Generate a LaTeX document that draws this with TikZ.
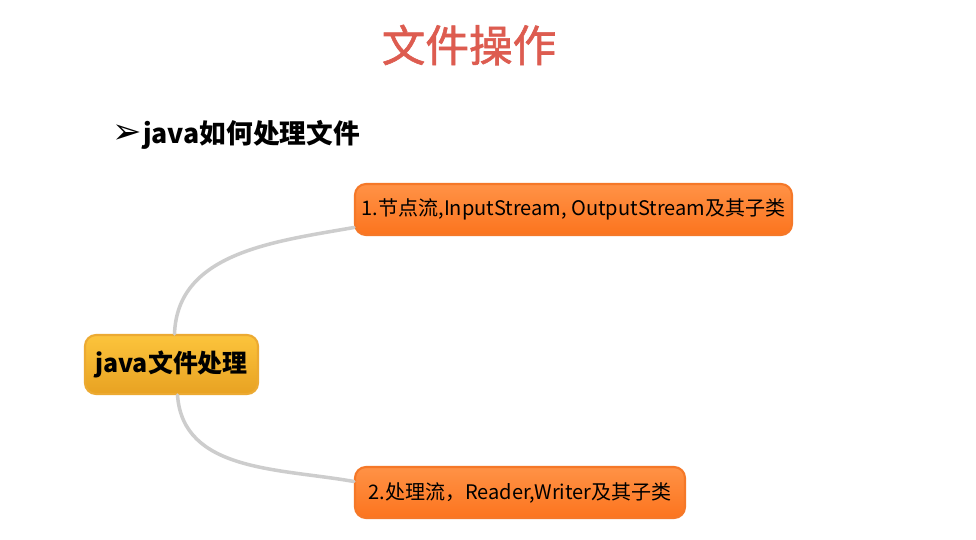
\documentclass[tikz,border=0pt]{standalone}
\usepackage{fontspec}
\setmainfont{Noto Sans CJK SC}
\newfontfamily\symfont{DejaVu Sans}
\newfontfamily\titlefont[FakeBold=1.4]{Noto Sans CJK SC}
\usetikzlibrary{positioning}

\definecolor{titlered}{RGB}{221,92,80}
\definecolor{rootTop}{RGB}{252,196,60}
\definecolor{rootBot}{RGB}{232,162,34}
\definecolor{rootEdge}{RGB}{236,170,50}
\definecolor{leafTop}{RGB}{255,146,70}
\definecolor{leafBot}{RGB}{252,116,30}
\definecolor{leafEdge}{RGB}{245,120,40}
\definecolor{branchgray}{RGB}{205,205,205}

\tikzset{
    rootbox/.style={draw=rootEdge, line width=0.6pt, rounded corners=1.1mm,
        top color=rootTop, bottom color=rootBot,
        minimum width=1.73cm, minimum height=0.59cm, inner sep=0pt,
        font=\fontsize{7.1pt}{8pt}\selectfont\bfseries},
    leafbox/.style={draw=leafEdge, line width=0.6pt, rounded corners=1.1mm,
        top color=leafTop, bottom color=leafBot,
        minimum height=0.51cm, inner sep=0pt,
        font=\fontsize{5.7pt}{7pt}\selectfont},
    branch/.style={draw=branchgray, line width=1pt, line cap=round},
}

\begin{document}
\begin{tikzpicture}[x=1cm, y=1cm]
    \useasboundingbox[fill=white] (0,0) rectangle (9.76,5.40);

    % Title
    \node[text=titlered, font=\titlefont\fontsize{12.4pt}{14pt}\selectfont] (title) at (4.69,4.95) {文件操作};

    % Bullet line
    \node[anchor=west, inner sep=0pt, font=\fontsize{7.6pt}{9pt}\selectfont\bfseries] (point) at (1.12,4.05)
        {{\symfont\mdseries\fontsize{10pt}{10pt}\selectfont ➢}\hspace{0.1mm}java如何处理文件};

    % Mind map nodes
    \node[rootbox] (root) at (1.715,1.755) {java文件处理};
    \node[leafbox, minimum width=4.37cm] (node) at (5.735,3.305) {1.节点流,InputStream, OutputStream及其子类};
    \node[leafbox, minimum width=3.30cm] (proc) at (5.20,0.475) {2.处理流，Reader,Writer及其子类};

    % Branches
    \draw[branch] ([xshift=0.3mm]root.north) to[out=88, in=190] ([yshift=-1.8mm]node.west);
    \draw[branch] ([xshift=0.6mm]root.south) to[out=-86, in=170] ([yshift=1.1mm]proc.west);
\end{tikzpicture}
\end{document}
